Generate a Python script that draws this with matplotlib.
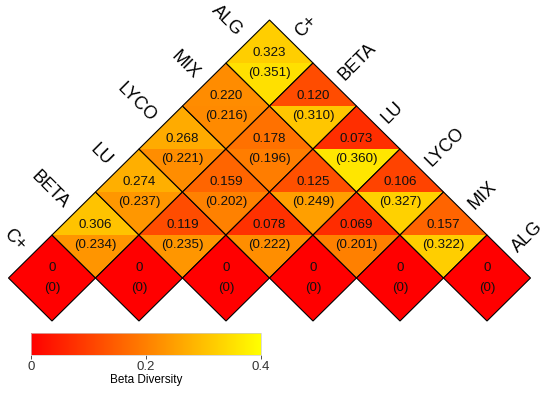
import matplotlib
matplotlib.use('Agg')
import matplotlib.pyplot as plt
from matplotlib.patches import Polygon
from matplotlib.colors import LinearSegmentedColormap, Normalize
import matplotlib.cm as cm

plt.rcParams['font.family'] = ['Liberation Sans', 'DejaVu Sans']

# Treatments, C+ first
labels = ['C+', 'BETA', 'LU', 'LYCO', 'MIX', 'ALG']

# Pairwise beta diversity: upper value and the value in brackets, keyed by (i, j) with i <= j
upper_values = {
    (0, 1): 0.306, (0, 2): 0.274, (0, 3): 0.268, (0, 4): 0.220, (0, 5): 0.323,
    (1, 2): 0.119, (1, 3): 0.159, (1, 4): 0.178, (1, 5): 0.120,
    (2, 3): 0.078, (2, 4): 0.125, (2, 5): 0.073,
    (3, 4): 0.069, (3, 5): 0.106,
    (4, 5): 0.157,
}
lower_values = {
    (0, 1): 0.234, (0, 2): 0.237, (0, 3): 0.221, (0, 4): 0.216, (0, 5): 0.351,
    (1, 2): 0.235, (1, 3): 0.202, (1, 4): 0.196, (1, 5): 0.310,
    (2, 3): 0.222, (2, 4): 0.249, (2, 5): 0.360,
    (3, 4): 0.201, (3, 5): 0.327,
    (4, 5): 0.322,
}

cmap = LinearSegmentedColormap.from_list('red_yellow', ['#FF0000', '#FFFF00'])
norm = Normalize(vmin=0, vmax=0.4)

fig = plt.figure(figsize=(5.5, 3.96), dpi=100)
ax = fig.add_axes([0, 0, 1, 1])
ax.set_xlim(-1.195, 11.448)
ax.set_ylim(-2.744, 6.465)
ax.axis('off')

n = len(labels)
for i in range(n):
    for j in range(i, n):
        if i == j:
            top, bottom = 0, 0
            top_txt, bottom_txt = '0', '(0)'
        else:
            top, bottom = upper_values[(i, j)], lower_values[(i, j)]
            top_txt, bottom_txt = f'{top:.3f}', f'({bottom:.3f})'
        x, y = i + j, j - i
        # upper and lower halves of the diamond
        ax.add_patch(Polygon([(x - 1, y), (x, y + 1), (x + 1, y)], closed=True,
                             facecolor=cmap(norm(top)), edgecolor='none'))
        ax.add_patch(Polygon([(x - 1, y), (x, y - 1), (x + 1, y)], closed=True,
                             facecolor=cmap(norm(bottom)), edgecolor='none'))
        # outline
        ax.add_patch(Polygon([(x - 1, y), (x, y + 1), (x + 1, y), (x, y - 1)], closed=True,
                             facecolor='none', edgecolor='black', linewidth=0.8))
        ax.text(x, y + 0.24, top_txt, ha='center', va='center', fontsize=9.6, color='#111111')
        ax.text(x, y - 0.24, bottom_txt, ha='center', va='center', fontsize=9.6, color='#111111')

# labels along the left edge
for j, lab in enumerate(labels):
    ex, ey = j - 0.5, j + 0.5
    ax.text(ex - 0.18, ey + 0.18, lab, rotation=-45, rotation_mode='anchor',
            ha='right', va='center', fontsize=13)

# labels along the right edge
for i, lab in enumerate(labels):
    x, y = i + 5, 5 - i
    ax.text(x + 0.5 + 0.15, y + 0.5 + 0.15, lab, rotation=45, rotation_mode='anchor',
            ha='left', va='center', fontsize=13)

# colour bar
cax = fig.add_axes([0.056, 0.1035, 0.418, 0.0556])
sm = cm.ScalarMappable(norm=norm, cmap=cmap)
cb = fig.colorbar(sm, cax=cax, orientation='horizontal', ticks=[0, 0.2, 0.4])
cb.ax.set_xticklabels(['0', '0.2', '0.4'])
cb.ax.tick_params(labelsize=9.5, length=3, width=0.6, colors='#333333', pad=1)
cb.outline.set_edgecolor('#cccccc')
cb.outline.set_linewidth(0.5)
cb.set_label('Beta Diversity', fontsize=8.5, labelpad=1)

plt.savefig('out.png', dpi=100)
